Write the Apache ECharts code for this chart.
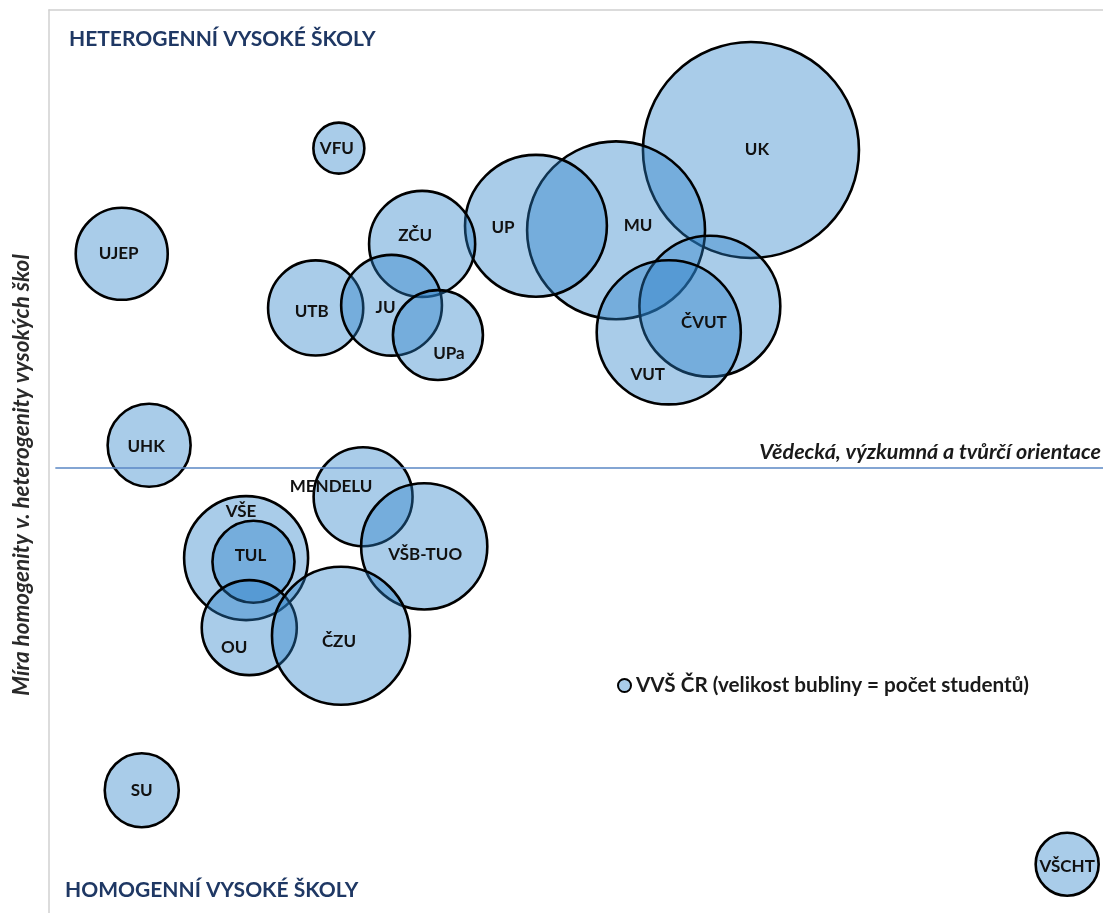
<!DOCTYPE html>
<html>
<head>
<meta charset="utf-8">
<script src="https://cdn.jsdelivr.net/npm/echarts@6/dist/echarts.min.js"></script>
<style>
  html, body { margin: 0; padding: 0; background: #fff; }
  #chart { width: 1103px; height: 913px; }
</style>
</head>
<body>
<div id="chart"></div>
<script>
// vysoke skoly - osa x: vedecka orientace, osa y: mira heterogenity
var schools = ['UK', 'MU', 'UP', 'ČVUT', 'VUT', 'ZČU', 'UTB', 'JU', 'UPa', 'VFU',
    'UJEP', 'UHK', 'SU', 'VŠCHT', 'MENDELU', 'VŠB-TUO', 'VŠE', 'TUL', 'OU', 'ČZU'];
var orientation = [66.6, 53.8, 46.2, 62.7, 58.8, 35.4, 25.3, 32.5, 36.9, 27.5,
    6.9, 9.5, 8.8, 96.6, 29.8, 35.6, 18.7, 19.4, 19.0, 27.7];
var heterogeneity = [84.5, 75.6, 76.1, 67.2, 64.3, 74.1, 67.0, 67.3, 64.0, 84.7,
    73.0, 51.8, 13.6, 5.4, 46.1, 40.6, 39.3, 38.9, 31.6, 30.7];
var students = [51000, 34600, 22000, 21700, 22700, 12300, 9900, 11100, 8850, 2840,
    9250, 7530, 5990, 4340, 10700, 17400, 16800, 7360, 9870, 20800];
var dividerLevel = 49.3;

// posun popisku v bublinach (jako v excelu)
var labelOffsets = {
    'UK': [6, 0], 'MU': [22, -5], 'UP': [-33, 2], 'ČVUT': [-6, 16], 'VUT': [-21, 42],
    'ZČU': [-7, -8], 'UTB': [-4, 4], 'JU': [-6, 2], 'UPa': [11, 18], 'VFU': [-2, 0],
    'UJEP': [-3, 0], 'UHK': [-3, 1], 'SU': [0, 0], 'VŠCHT': [0, 2], 'MENDELU': [-32, -10],
    'VŠB-TUO': [1, 8], 'VŠE': [-5, -47], 'TUL': [-3, -6], 'OU': [-15, 20], 'ČZU': [-2, 6]
};

var maxStudents = Math.max.apply(null, students);
var maxDiameter = 216;
var font = 'Lato, "Open Sans", sans-serif';

var points = schools.map(function (name, i) {
    return {
        name: name,
        value: [orientation[i], heterogeneity[i], students[i]],
        label: {offset: labelOffsets[name] || [0, 0]}
    };
});

var chart = echarts.init(document.getElementById('chart'));

var option = {
    animation: false,
    textStyle: {fontFamily: font},
    title: [
        {
            text: 'HETEROGENNÍ VYSOKÉ ŠKOLY',
            left: 64, top: 24,
            textStyle: {color: '#1f3864', fontSize: 21, fontWeight: 'bold', fontFamily: font}
        },
        {
            text: 'HOMOGENNÍ VYSOKÉ ŠKOLY',
            left: 60, top: 875,
            textStyle: {color: '#1f3864', fontSize: 21, fontWeight: 'bold', fontFamily: font}
        },
        {
            text: 'Vědecká, výzkumná a tvůrčí orientace',
            right: 2, top: 441,
            padding: 0,
            textStyle: {color: '#1a1a1a', fontSize: 21.5, fontWeight: 'bold', fontStyle: 'italic', fontFamily: font}
        }
    ],
    graphic: [
        {
            type: 'text',
            x: 22, y: 475,
            rotation: Math.PI / 2,
            style: {
                text: 'Míra homogenity v. heterogenity vysokých škol',
                align: 'center', verticalAlign: 'middle',
                fill: '#2a2a2a',
                font: 'italic bold 22.5px ' + font
            }
        }
    ],
    legend: {
        data: ['VVŠ ČR (velikost bubliny = počet studentů)'],
        left: 612, top: 670,
        icon: 'circle',
        itemWidth: 13, itemHeight: 13, itemGap: 4,
        textStyle: {fontSize: 20.7, fontWeight: 'bold', color: '#1a1a1a', fontFamily: font}
    },
    grid: {left: 49, right: 0, top: 10, bottom: 0},
    xAxis: {
        type: 'value',
        min: 0, max: 100,
        position: 'top',
        axisLine: {show: true, onZero: false, lineStyle: {color: '#d0d0d0', width: 1.5}},
        axisTick: {show: false},
        axisLabel: {show: false},
        splitLine: {show: false}
    },
    yAxis: {
        type: 'value',
        min: 0, max: 100,
        axisLine: {show: true, onZero: false, lineStyle: {color: '#d0d0d0', width: 1.5}},
        axisTick: {show: false},
        axisLabel: {show: false},
        splitLine: {show: false}
    },
    series: [
        {
            name: 'VVŠ ČR (velikost bubliny = počet studentů)',
            type: 'scatter',
            data: points,
            symbolSize: function (val) {
                return maxDiameter * Math.sqrt(val[2] / maxStudents);
            },
            itemStyle: {
                color: 'rgba(40,128,200,0.4)',
                opacity: 1,
                borderColor: '#000',
                borderWidth: 2.6
            },
            label: {
                show: true,
                position: 'inside',
                formatter: '{b}',
                fontSize: 17,
                fontWeight: 'bold',
                color: '#111',
                fontFamily: font
            },
            emphasis: {disabled: true},
            markLine: {
                silent: true,
                symbol: 'none',
                label: {show: false},
                lineStyle: {color: '#5a87c5', width: 1.5, type: 'solid'},
                data: [[{coord: [0.6, dividerLevel]}, {coord: [100, dividerLevel]}]]
            }
        }
    ]
};

chart.setOption(option);
</script>
</body>
</html>
